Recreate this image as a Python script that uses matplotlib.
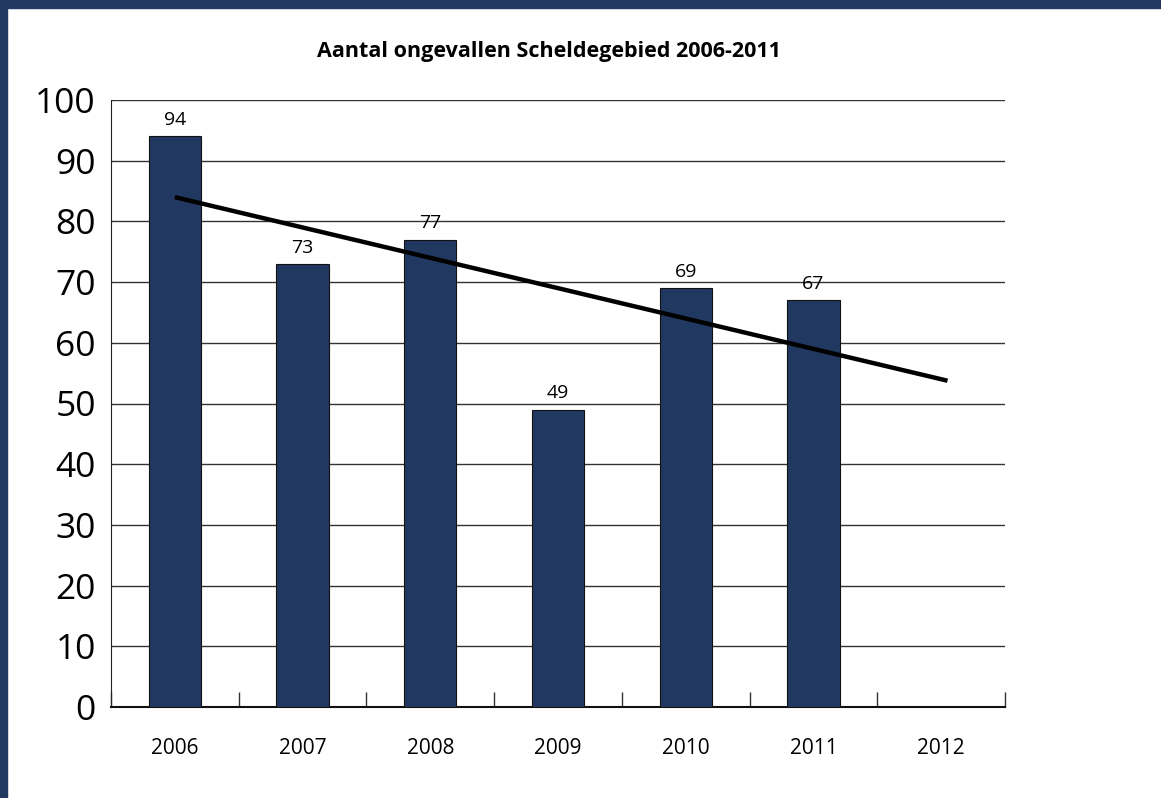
import numpy as np
import matplotlib.pyplot as plt
from matplotlib.patches import Rectangle

# chart data
years = ['2006', '2007', '2008', '2009', '2010', '2011', '2012']
accidents = [94, 73, 77, 49, 69, 67]
y_ticks = [0, 10, 20, 30, 40, 50, 60, 70, 80, 90, 100]
title = 'Aantal ongevallen Scheldegebied 2006-2011'

NAVY = '#213961'

plt.rcParams['font.family'] = ['Open Sans', 'DejaVu Sans']

fig = plt.figure(figsize=(11.61, 7.98), dpi=100)
ax = fig.add_axes([111 / 1161, 1 - 707 / 798, (1005 - 111) / 1161, (707 - 100) / 798])

x = np.arange(len(accidents))
ax.bar(x, accidents, width=0.41, color=NAVY, edgecolor='#111111', linewidth=0.8, zorder=3)
for xi, v in zip(x, accidents):
    ax.text(xi, v + 1.2, str(v), ha='center', va='bottom', fontsize=14, zorder=4)

# linear trendline over the measured years, extended to 2012
slope, intercept = np.polyfit(x, accidents, 1)
xt = np.array([0, len(years) - 1 + 0.05])
ax.plot(xt, intercept + slope * xt, color='black', linewidth=3.2, solid_capstyle='butt', zorder=5)

ax.set_xlim(-0.5, len(years) - 0.5)
ax.set_ylim(0, 100)
ax.set_yticks(y_ticks)
ax.tick_params(axis='y', length=0, pad=11, labelsize=25.5)
ax.yaxis.grid(True, color='#333333', linewidth=1.0)
ax.set_axisbelow(True)

ax.set_xticks(x.tolist() + [len(years) - 1])
ax.set_xticks(np.arange(len(years) + 1) - 0.5, minor=True)
ax.set_xticklabels(years)
ax.tick_params(axis='x', which='major', length=0, pad=22, labelsize=15)
ax.tick_params(axis='x', which='minor', direction='in', length=11, width=1.0, color='#333333')

for s in ['top', 'right']:
    ax.spines[s].set_visible(False)
ax.spines['left'].set_color('#222222')
ax.spines['bottom'].set_color('#111111')
ax.spines['bottom'].set_linewidth(1.5)

fig.text(549 / 1161, 1 - 51 / 798, title, ha='center', va='center',
         fontsize=15.5, fontweight='bold', family=['Open Sans', 'DejaVu Sans'])

# dark blue frame on top and left
fig.patches.append(Rectangle((0, 1 - 7.5 / 798), 1, 7.5 / 798, transform=fig.transFigure,
                             color=NAVY, zorder=10))
fig.patches.append(Rectangle((0, 0), 7 / 1161, 1, transform=fig.transFigure,
                             color=NAVY, zorder=10))

fig.savefig('out.png', dpi=100)
